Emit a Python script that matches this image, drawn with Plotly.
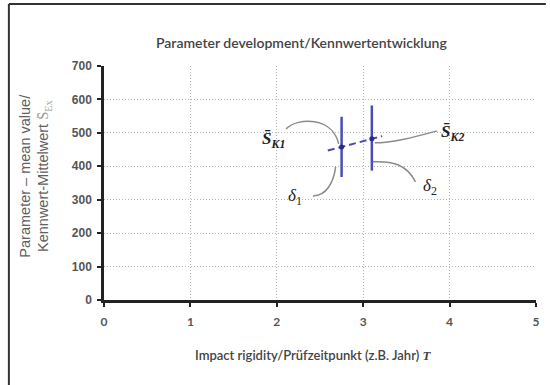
import plotly.graph_objects as go

# Mean values at two test times with their spread
times = [2.75, 3.10]
means = [458, 482]
spread_plus = [90, 100]
spread_minus = [90, 95]
point_labels = ["<b><i>S\u0304</i></b><sub><b><i>K1</i></b></sub>", "<b><i>S\u0304</i></b><sub><b><i>K2</i></b></sub>"]
delta_labels = ["<i>δ</i><sub>1</sub>", "<i>δ</i><sub>2</sub>"]

x_ticks = [0, 1, 2, 3, 4, 5]
y_ticks = [0, 100, 200, 300, 400, 500, 600, 700]

# Layout geometry (pixels)
W, H = 550, 385
ML, MR, MT, MB = 104, 10, 66, 85
PW, PH = W - ML - MR, H - MT - MB
X_RANGE = [0, 5]
Y_RANGE = [0, 700]
PX_X = PW / (X_RANGE[1] - X_RANGE[0])
PX_Y = PH / (Y_RANGE[1] - Y_RANGE[0])

BLUE = "#4b4bb8"
GREY_TXT = "#555555"


def off(x, y, dx, dy):
    """Data point shifted by a pixel offset (dy positive = downwards)."""
    return x + dx / PX_X, y - dy / PX_Y


def curve(x, y, pts):
    p = [off(x, y, dx, dy) for dx, dy in pts]
    return "M {} {} C {} {}, {} {}, {} {}".format(
        p[0][0], p[0][1], p[1][0], p[1][1], p[2][0], p[2][1], p[3][0], p[3][1])


def px_to_paper(px, py):
    return (px - ML) / PW, (MT + PH - py) / PH


fig = go.Figure()

# trend between the two means, extended a little on each side
slope = (means[1] - means[0]) / (times[1] - times[0])
tx0 = times[0] - 0.16
tx1 = times[1] + 0.12
fig.add_trace(go.Scatter(
    x=[tx0, tx1],
    y=[means[0] + slope * (tx0 - times[0]), means[0] + slope * (tx1 - times[0])],
    mode="lines", line=dict(color=BLUE, width=2, dash="7px,4px"),
    hoverinfo="skip", showlegend=False))

fig.add_trace(go.Scatter(
    x=times, y=means, mode="markers",
    marker=dict(color="#2a2a8a", size=5),
    error_y=dict(type="data", symmetric=False, array=spread_plus,
                 arrayminus=spread_minus, color=BLUE, thickness=2.5, width=0),
    showlegend=False))

# curved leader lines from the labels to the marks
connectors = [
    (0, [(-56, -18), (-44, -30), (-9, -30), (-3, -3)]),
    (0, [(-29, 49), (-15, 49), (-8, 35), (-6, 20)]),
    (1, [(66, -8), (40, -1), (20, 4), (3, 4)]),
    (1, [(1, 23), (20, 22), (35, 25), (44, 43)]),
]
for i, pts in connectors:
    fig.add_shape(type="path", xref="x", yref="y",
                  path=curve(times[i], means[i], pts),
                  line=dict(color="#8a8a8a", width=1.5))

label_font = dict(family="Liberation Serif, Times New Roman, serif", size=17, color="#222")
shifts_s = [(-68, 7), (81, 6)]
shifts_d = [(-47, -50), (58, -48)]
for i in range(2):
    fig.add_annotation(x=times[i], y=means[i], text=point_labels[i], showarrow=False,
                       xshift=shifts_s[i][0], yshift=shifts_s[i][1], font=label_font)
    fig.add_annotation(x=times[i], y=means[i], text=delta_labels[i], showarrow=False,
                       xshift=shifts_d[i][0], yshift=shifts_d[i][1], font=label_font)

# titles
tx, ty = px_to_paper(303, 43)
fig.add_annotation(xref="paper", yref="paper", x=tx, y=ty, xanchor="center", yanchor="middle",
                   text="Parameter development/Kennwertentwicklung", showarrow=False,
                   font=dict(family="Lato, Open Sans, sans-serif", size=14, color="#444", weight=600))
tx, ty = px_to_paper(315, 355)
fig.add_annotation(xref="paper", yref="paper", x=tx, y=ty, xanchor="center", yanchor="middle",
                   text="Impact rigidity/Prüfzeitpunkt (z.B. Jahr) <i><span style='font-family:Liberation Serif'>T</span></i>",
                   showarrow=False,
                   font=dict(family="Lato, Open Sans, sans-serif", size=13, color="#444", weight=600))
tx, ty = px_to_paper(34, 176)
fig.add_annotation(xref="paper", yref="paper", x=tx, y=ty, xanchor="center", yanchor="middle",
                   text="Parameter – mean value/<br>Kennwert-Mittelwert <span style='font-family:Liberation Serif;color:#999'>S\u0304<sub>Ex</sub></span>",
                   showarrow=False, textangle=-90,
                   font=dict(family="Liberation Sans, Arial, sans-serif", size=14.5, color="#606060"))

# outer frame: only the left and top edges fall inside the picture
fx0, fy0 = px_to_paper(8, 4)
fx1, fy1 = px_to_paper(W, H)
for x0, y0, x1, y1 in [(fx0, fy0, fx0, fy1), (fx0, fy0, fx1, fy0)]:
    fig.add_shape(type="line", xref="paper", yref="paper", layer="below",
                  x0=x0, y0=y0, x1=x1, y1=y1, line=dict(color="#333", width=2))

axis_common = dict(showline=True, linecolor="#222", linewidth=2.5,
                   ticks="outside", ticklen=4, tickwidth=2, tickcolor="#222",
                   showgrid=True, gridcolor="#b5b5b5", griddash="1px,2px", gridwidth=1,
                   zeroline=False)
fig.update_xaxes(range=X_RANGE, tickvals=x_ticks, ticklabelstandoff=5, **axis_common,
                 tickfont=dict(family="Lato, Open Sans, sans-serif", size=12, color=GREY_TXT, weight=700))
fig.update_yaxes(range=Y_RANGE, tickvals=y_ticks, ticklabelstandoff=3, **axis_common,
                 tickfont=dict(family="Liberation Sans, Arial, sans-serif", size=12, color=GREY_TXT, weight=700))

fig.update_layout(width=W, height=H, margin=dict(l=ML, r=MR, t=MT, b=MB),
                  paper_bgcolor="white", plot_bgcolor="white", showlegend=False)

fig.write_html("out.html")
